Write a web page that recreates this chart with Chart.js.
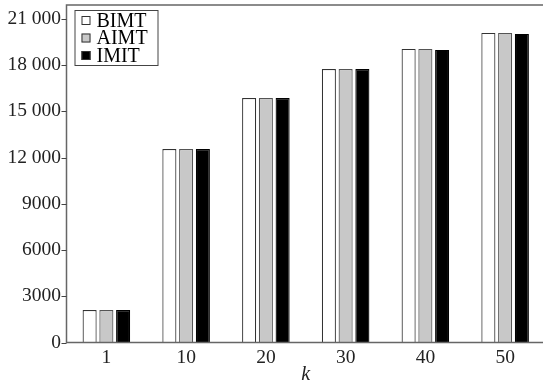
<!DOCTYPE html>
<html>
<head>
<meta charset="utf-8">
<script src="https://cdn.jsdelivr.net/npm/chart.js@4"></script>
<style>
html,body{margin:0;padding:0;background:#fff;overflow:hidden;}
#wrap{width:546px;height:386px;position:relative;}
</style>
</head>
<body>
<div id="wrap"><canvas id="c"></canvas></div>
<script>
const categories = ['1', '10', '20', '30', '40', '50'];
const seriesNames = ['BIMT', 'AIMT', 'IMIT'];
const bimt = [2110, 12550, 15860, 17740, 19050, 20090];
const aimt = [2110, 12550, 15860, 17740, 19050, 20090];
const imit = [2110, 12550, 15860, 17740, 18985, 20025];
const yTicks = [0, 3000, 6000, 9000, 12000, 15000, 18000, 21000];
const yTickLabels = ['0', '3000', '6000', '9000', '12 000', '15 000', '18 000', '21 000'];
const yMax = 21900;

const FONT = '"Liberation Serif", "DejaVu Serif", serif';
const fills = ['#ffffff', '#c8c8c8', '#000000'];
const borders = ['#333333', '#555555', '#000000'];

const framePlugin = {
  id: 'frame',
  afterDatasetsDraw(chart) {
    const {ctx, chartArea: a, scales: {y}} = chart;
    ctx.save();
    ctx.strokeStyle = '#666';
    ctx.lineWidth = 1.5;
    ctx.beginPath();
    ctx.moveTo(a.right + 2, a.top);
    ctx.lineTo(a.left, a.top);
    ctx.lineTo(a.left, a.bottom);
    ctx.lineTo(a.right + 2, a.bottom);
    ctx.stroke();
    ctx.lineWidth = 1.2;
    ctx.strokeStyle = '#444';
    ctx.beginPath();
    yTicks.forEach(v => {
      const py = Math.round(y.getPixelForValue(v)) + 0.5;
      ctx.moveTo(a.left - 5, py);
      ctx.lineTo(a.left, py);
    });
    ctx.stroke();
    // legend box
    const lx = a.left + 8, ly = a.top + 5, lw = 83, lh = 55;
    ctx.fillStyle = '#fff';
    ctx.fillRect(lx, ly, lw, lh);
    ctx.lineWidth = 1;
    ctx.strokeStyle = '#444';
    ctx.strokeRect(lx + 0.5, ly + 0.5, lw, lh);
    ctx.font = '20px ' + FONT;
    ctx.textBaseline = 'middle';
    chart.data.datasets.forEach((ds, i) => {
      const cy = ly + 10.5 + i * 17.5;
      ctx.fillStyle = ds.backgroundColor;
      ctx.fillRect(lx + 7, cy - 4.5, 9, 9);
      ctx.strokeStyle = '#333';
      ctx.lineWidth = 1;
      ctx.strokeRect(lx + 7.5, cy - 4, 8, 8);
      ctx.fillStyle = '#000';
      ctx.fillText(ds.label, lx + 22, cy + 1);
    });
    ctx.restore();
  }
};

const dataArrays = [bimt, aimt, imit];
new Chart(document.getElementById('c'), {
  type: 'bar',
  data: {
    labels: categories,
    datasets: seriesNames.map((n, i) => ({
      label: n,
      data: dataArrays[i],
      backgroundColor: fills[i],
      borderColor: borders[i],
      borderWidth: 1.2,
      categoryPercentage: 0.63,
      barPercentage: 0.84
    }))
  },
  options: {
    responsive: true,
    maintainAspectRatio: false,
    animation: false,
    devicePixelRatio: 1,
    layout: {padding: {top: 5, right: 1, left: 0, bottom: 0}},
    plugins: {legend: {display: false}, tooltip: {enabled: false}},
    scales: {
      x: {
        grid: {display: false, drawTicks: false},
        border: {display: false},
        ticks: {color: '#222', font: {family: FONT, size: 19.5}, padding: 4},
        title: {display: true, text: 'k', color: '#222', font: {family: FONT, size: 20, style: 'italic', lineHeight: 1}, padding: {top: 0, bottom: 1}},
        afterFit(s) { s.height = 43.5; s.paddingLeft = 0; s.paddingRight = 0; }
      },
      y: {
        min: 0,
        max: yMax,
        grid: {display: false, drawTicks: false},
        border: {display: false},
        afterBuildTicks(s) { s.ticks = yTicks.map(v => ({value: v})); },
        ticks: {
          color: '#222',
          font: {family: FONT, size: 19.5},
          padding: 5.5,
          callback: (v) => yTickLabels[yTicks.indexOf(v)]
        },
        afterFit(s) { s.width = 66.5; s.paddingTop = 0; s.paddingBottom = 0; }
      }
    }
  },
  plugins: [framePlugin]
});
</script>
</body>
</html>
